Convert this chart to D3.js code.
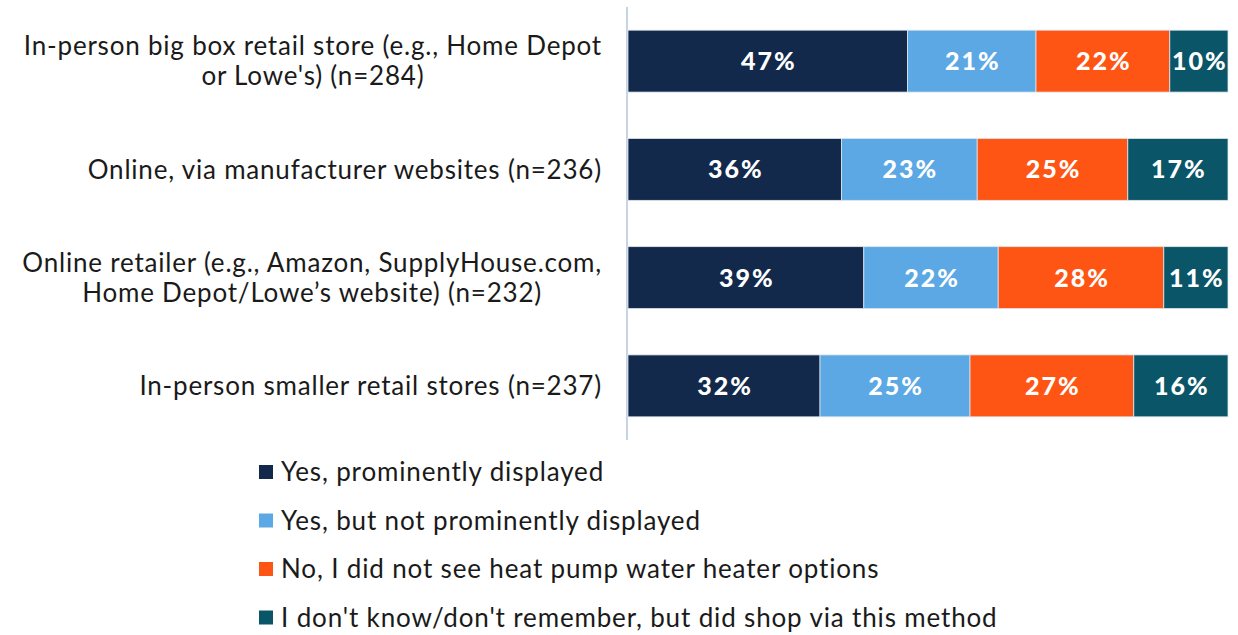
<!DOCTYPE html>
<html>
<head>
<meta charset="utf-8">
<script src="https://cdn.jsdelivr.net/npm/d3@7"></script>
<style>
  body { margin: 0; background: #fff; }
  svg { display: block; }
</style>
</head>
<body>
<svg id="chart" width="1238" height="635"></svg>
<script>
// categories, each line of the label is one entry
let categories = [
    ["In-person big box retail store (e.g., Home Depot", "or Lowe's) (n=284)"],
    ["Online, via manufacturer websites (n=236)"],
    ["Online retailer (e.g., Amazon, SupplyHouse.com,", "Home Depot/Lowe\u2019s website) (n=232)"],
    ["In-person smaller retail stores (n=237)"]
];
let seriesNames = [
    "Yes, prominently displayed",
    "Yes, but not prominently displayed",
    "No, I did not see heat pump water heater options",
    "I don't know/don't remember, but did shop via this method"
];
let seriesColors = ["#13294b", "#5ba8e5", "#ff5514", "#0a5568"];

// percentages per series (one value per category)
let yesProminent = [46.6, 35.6, 39.3, 32.0];
let yesNotProminent = [21.4, 22.6, 22.4, 25.0];
let noDidNotSee = [22.3, 25.1, 27.6, 27.3];
let dontKnow = [9.7, 16.7, 10.7, 15.7];
let seriesValues = [yesProminent, yesNotProminent, noDidNotSee, dontKnow];

let fontFamily = "Lato, 'Open Sans', sans-serif";
let textColor = "#1a1a1a";

function drawChart(svgId) {
    let svg = d3.select(svgId);

    let xScale = d3.scaleLinear()
        .domain([0, 100])
        .range([628, 1228]);

    let yScale = d3.scaleBand()
        .domain(d3.range(categories.length))
        .range([7, 440])
        .paddingInner(0.428)
        .paddingOuter(0.214);

    // build stacked rows
    let rows = categories.map(function(c, i) {
        let row = {};
        seriesNames.forEach(function(s, j) { row[s] = seriesValues[j][i]; });
        row.index = i;
        return row;
    });
    let stacked = d3.stack().keys(seriesNames)(rows);

    // vertical axis line
    svg.append("line")
        .attr("x1", xScale(0) - 1)
        .attr("x2", xScale(0) - 1)
        .attr("y1", 7)
        .attr("y2", 440)
        .attr("stroke", "#c8d3e6")
        .attr("stroke-width", 2);

    stacked.forEach(function(layer, j) {
        let g = svg.append("g");
        g.selectAll("rect")
            .data(layer)
            .enter()
            .append("rect")
            .attr("x", function(d) { return xScale(d[0]); })
            .attr("y", function(d, i) { return yScale(i); })
            .attr("width", function(d) { return xScale(d[1]) - xScale(d[0]); })
            .attr("height", yScale.bandwidth())
            .attr("fill", seriesColors[j])
            .attr("stroke", "#dfe6ee")
            .attr("stroke-width", 0.8);

        // letter-spacing adds space after the last glyph too, so nudge by half of it
        g.selectAll("text")
            .data(layer)
            .enter()
            .append("text")
            .attr("x", function(d) { return (xScale(d[0]) + xScale(d[1])) / 2 + 1; })
            .attr("y", function(d, i) { return yScale(i) + yScale.bandwidth() / 2; })
            .attr("dy", "0.36em")
            .text(function(d) { return Math.round(d[1] - d[0]) + "%"; })
            .style("font-family", fontFamily)
            .style("font-weight", "900")
            .style("font-size", "25px")
            .style("letter-spacing", "2px")
            .style("fill", "#ffffff")
            .style("text-anchor", "middle");
    });

    // category labels: block right aligned, lines centred within it
    let labelRight = 602;
    let lineHeight = 30;
    categories.forEach(function(lines, i) {
        let cy = yScale(i) + yScale.bandwidth() / 2;
        let group = svg.append("g");
        let texts = lines.map(function(line, k) {
            return group.append("text")
                .attr("y", cy + (k - (lines.length - 1) / 2) * lineHeight)
                .attr("dy", "0.36em")
                .text(line)
                .style("font-family", fontFamily)
                .style("font-size", "26px")
                .style("letter-spacing", "0.8px")
                .style("fill", textColor)
                .style("text-anchor", "middle");
        });
        let maxW = d3.max(texts, function(t) { return t.node().getComputedTextLength(); });
        texts.forEach(function(t) { t.attr("x", labelRight - maxW / 2); });
    });

    // legend
    let legend = svg.append("g");
    seriesNames.forEach(function(name, j) {
        let ly = 472 + j * 48.5;
        legend.append("rect")
            .attr("x", 259)
            .attr("y", ly - 7)
            .attr("width", 14)
            .attr("height", 14)
            .attr("fill", seriesColors[j]);
        legend.append("text")
            .attr("x", 281)
            .attr("y", ly)
            .attr("dy", "0.36em")
            .text(name)
            .style("font-family", fontFamily)
            .style("font-size", "26px")
            .style("letter-spacing", "0.85px")
            .style("fill", textColor);
    });
}

drawChart("#chart");
</script>
</body>
</html>
